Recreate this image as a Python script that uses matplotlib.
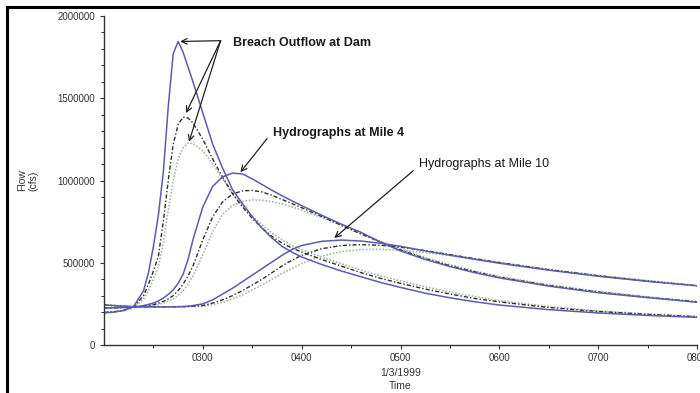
import matplotlib
matplotlib.use("Agg")
import matplotlib.pyplot as plt
from matplotlib.patches import Rectangle

plt.rcParams['font.family'] = ['Liberation Sans', 'DejaVu Sans']

# time in hours on 1/3/1999
hours = [2.0, 2.1, 2.2, 2.3, 2.4, 2.45, 2.5, 2.55, 2.6, 2.65, 2.7, 2.75, 2.8,
         2.85, 2.9, 3.0, 3.1, 3.2, 3.3, 3.4, 3.5, 3.6, 3.7, 3.8, 3.9, 4.0,
         4.2, 4.4, 4.6, 4.8, 5.0, 5.25, 5.5, 5.75, 6.0, 6.5, 7.0, 7.5, 8.0]

# flows (cfs)
dam_blue = [195000, 200000, 210000, 235000, 330000, 440000, 600000, 790000,
            1050000, 1450000, 1770000, 1845000, 1780000, 1690000, 1600000,
            1410000, 1220000, 1075000, 945000, 860000, 780000, 710000, 650000,
            600000, 565000, 535000, 490000, 450000, 415000, 380000, 350000,
            315000, 287000, 263000, 243000, 215000, 195000, 180000, 168000]
dam_black = [198000, 202000, 210000, 230000, 300000, 370000, 450000, 540000,
             750000, 1000000, 1220000, 1340000, 1385000, 1380000, 1350000,
             1250000, 1130000, 1020000, 920000, 840000, 770000, 710000, 660000,
             620000, 590000, 565000, 520000, 480000, 440000, 405000, 375000,
             340000, 310000, 283000, 262000, 228000, 204000, 186000, 172000]
dam_green = [200000, 204000, 210000, 225000, 280000, 330000, 400000, 480000,
             620000, 820000, 1000000, 1130000, 1200000, 1228000, 1225000,
             1180000, 1100000, 1010000, 925000, 850000, 785000, 730000, 680000,
             640000, 605000, 580000, 535000, 495000, 455000, 420000, 390000,
             354000, 322000, 295000, 270000, 234000, 207000, 189000, 175000]

mile4_blue = [225000, 226000, 228000, 230000, 240000, 247000, 255000, 268000,
              285000, 308000, 335000, 375000, 430000, 520000, 640000, 840000,
              965000, 1022000, 1045000, 1040000, 1010000, 975000, 940000,
              908000, 877000, 847000, 790000, 735000, 685000, 625000, 572000,
              520000, 477000, 440000, 408000, 358000, 318000, 288000, 260000]
mile4_black = [225000, 226000, 228000, 230000, 235000, 240000, 245000, 254000,
               265000, 280000, 300000, 330000, 370000, 420000, 480000, 640000,
               780000, 870000, 918000, 937000, 940000, 930000, 910000, 885000,
               860000, 835000, 782000, 728000, 675000, 625000, 578000, 525000,
               482000, 445000, 412000, 362000, 322000, 290000, 262000]
mile4_green = [225000, 226000, 228000, 230000, 234000, 237000, 240000, 246000,
               255000, 266000, 280000, 302000, 330000, 370000, 420000, 550000,
               690000, 795000, 848000, 872000, 882000, 880000, 872000, 858000,
               840000, 820000, 775000, 727000, 678000, 630000, 585000, 532000,
               488000, 450000, 417000, 366000, 326000, 293000, 265000]

mile10_blue = [243000, 240000, 236000, 233000, 232000, 232000, 232000, 232000,
               232000, 232000, 233000, 233000, 234000, 236000, 240000, 250000,
               275000, 310000, 345000, 385000, 425000, 465000, 505000, 545000,
               580000, 605000, 630000, 638000, 632000, 618000, 600000, 572000,
               546000, 521000, 497000, 455000, 418000, 387000, 360000]
mile10_black = [243000, 240000, 236000, 233000, 232000, 232000, 232000, 232000,
                232000, 232000, 232000, 232000, 233000, 234000, 236000, 240000,
                255000, 275000, 300000, 330000, 365000, 400000, 440000, 480000,
                515000, 545000, 585000, 605000, 610000, 606000, 595000, 574000,
                550000, 525000, 501000, 458000, 421000, 389000, 360000]
mile10_green = [243000, 240000, 236000, 233000, 232000, 232000, 232000, 232000,
                232000, 232000, 232000, 232000, 232000, 233000, 234000, 235000,
                245000, 260000, 280000, 305000, 335000, 365000, 400000, 435000,
                465000, 495000, 540000, 568000, 580000, 582000, 576000, 562000,
                544000, 523000, 502000, 460000, 424000, 392000, 362000]

tick_hours = [3, 4, 5, 6, 7, 8]
tick_labels = ["0300", "0400", "0500", "0600", "0700", "0800"]

blue = "#5c5cad"
black = "#2e2e2e"
green = "#a9b99c"

fig = plt.figure(figsize=(7.0, 3.93), dpi=100)
ax = fig.add_axes([0.1486, 0.1221, 0.8471, 0.8372])

for flows in (mile10_green, mile4_green, dam_green):
    ax.plot(hours, flows, color=green, lw=1.2, ls=(0, (1, 1)))
for flows in (mile10_black, mile4_black, dam_black):
    ax.plot(hours, flows, color=black, lw=1.0, ls=(0, (3, 1.5, 1, 1.5)))
for flows in (mile10_blue, mile4_blue, dam_blue):
    ax.plot(hours, flows, color=blue, lw=1.1)

ax.set_xlim(2, 8)
ax.set_ylim(0, 2000000)
ax.set_yticks([0, 500000, 1000000, 1500000, 2000000])
ax.set_yticklabels(["0", "500000", "1000000", "1500000", "2000000"])
ax.set_yticks(range(0, 2000001, 100000), minor=True)
ax.set_xticks(tick_hours)
ax.set_xticklabels(tick_labels)
ax.set_xticks([2.5, 3.5, 4.5, 5.5, 6.5, 7.5], minor=True)
ax.tick_params(labelsize=7, colors="#333333", length=3, width=0.8)
ax.tick_params(which="minor", length=2, width=0.6)
ax.tick_params(axis="x", pad=3)
for s in ("top", "right"):
    ax.spines[s].set_visible(False)
for s in ("left", "bottom"):
    ax.spines[s].set_color("#333333")
    ax.spines[s].set_linewidth(1.0)

ax.set_ylabel("Flow\n(cfs)", fontsize=7.5, color="#333333", labelpad=14,
              linespacing=1.1)
ax.set_xlabel("1/3/1999\nTime", fontsize=7.5, color="#333333", labelpad=3,
              linespacing=1.4)

arrow = dict(arrowstyle="->", color="#222222", lw=0.9, shrinkA=0, shrinkB=0)
ax.text(2.0 + (233 - 104) / 99, 1836000, "Breach Outflow at Dam",
        fontsize=9, fontweight="bold", va="center", color="#1a1a1a")
for tx, ty in ((2.77, 1845000), (2.83, 1410000), (2.86, 1235000)):
    ax.annotate("", xy=(tx, ty), xytext=(3.18, 1850000), arrowprops=arrow)
ax.text(2.0 + (273 - 104) / 99, 1290000, "Hydrographs at Mile 4",
        fontsize=9, fontweight="bold", va="center", color="#1a1a1a")
ax.annotate("", xy=(3.38, 1050000), xytext=(3.65, 1255000), arrowprops=arrow)
ax.text(2.0 + (420 - 104) / 99, 1100000, "Hydrographs at Mile 10",
        fontsize=9, va="center", color="#1a1a1a")
ax.annotate("", xy=(4.33, 650000), xytext=(5.13, 1060000), arrowprops=arrow)

# page frame around the picture
fig.add_artist(Rectangle((7 / 700, -0.01), 1.0, 1 - 7 / 393 + 0.01,
                         transform=fig.transFigure, fill=False,
                         edgecolor="black", lw=2.2))

fig.savefig("out.png", dpi=100)
